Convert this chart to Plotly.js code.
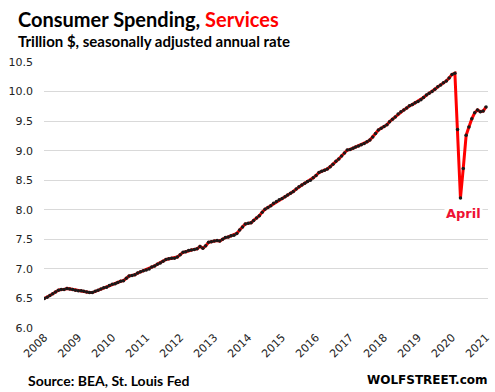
<!DOCTYPE html>
<html>
<head>
<meta charset="utf-8">
<script src="https://cdn.plot.ly/plotly-3.0.1.min.js"></script>
<style>html,body{margin:0;padding:0;background:#fff;}#chart{width:495px;height:392px;}</style>
</head>
<body>
<div id="chart"></div>
<script>
// Monthly, Jan 2008 .. Jan 2021 (trillion $, SAAR)
const startYear = 2008;
const values = [
  // 2008
  6.50, 6.52, 6.55, 6.58, 6.61, 6.64, 6.65, 6.65, 6.67, 6.66, 6.65, 6.64,
  // 2009
  6.63, 6.63, 6.62, 6.61, 6.60, 6.60, 6.62, 6.64, 6.66, 6.68, 6.69, 6.72,
  // 2010
  6.74, 6.75, 6.77, 6.79, 6.80, 6.84, 6.88, 6.89, 6.90, 6.93, 6.95, 6.97,
  // 2011
  6.98, 7.00, 7.03, 7.05, 7.08, 7.10, 7.13, 7.16, 7.17, 7.18, 7.18, 7.20,
  // 2012
  7.24, 7.28, 7.29, 7.31, 7.32, 7.33, 7.34, 7.38, 7.35, 7.39, 7.45, 7.46,
  // 2013
  7.47, 7.48, 7.47, 7.50, 7.53, 7.54, 7.56, 7.57, 7.60, 7.66, 7.71, 7.76,
  // 2014
  7.77, 7.78, 7.82, 7.86, 7.90, 7.96, 8.01, 8.04, 8.07, 8.11, 8.14, 8.17,
  // 2015
  8.19, 8.22, 8.25, 8.28, 8.31, 8.35, 8.39, 8.42, 8.45, 8.48, 8.50, 8.54,
  // 2016
  8.58, 8.63, 8.65, 8.67, 8.69, 8.73, 8.77, 8.82, 8.86, 8.91, 8.96, 9.01,
  // 2017
  9.02, 9.04, 9.06, 9.08, 9.10, 9.12, 9.15, 9.18, 9.23, 9.29, 9.35, 9.38,
  // 2018
  9.41, 9.44, 9.49, 9.53, 9.57, 9.62, 9.66, 9.69, 9.72, 9.76, 9.78, 9.81,
  // 2019
  9.83, 9.86, 9.90, 9.94, 9.97, 10.00, 10.04, 10.08, 10.11, 10.15, 10.18, 10.23,
  // 2020
  10.29, 10.31, 9.36, 8.20, 8.70, 9.26, 9.40, 9.54, 9.64, 9.69, 9.66, 9.67,
  // 2021
  9.74
];
const yTicks = [6.0, 6.5, 7.0, 7.5, 8.0, 8.5, 9.0, 9.5, 10.0, 10.5];
const yTickLabels = ["6.0","6.5","7.0","7.5","8.0","8.5","9.0","9.5","10.0","10.5"];
const xTickYears = ["2008","2009","2010","2011","2012","2013","2014","2015","2016","2017","2018","2019","2020","2021"];
const noteLabel = "April";
const noteDate = "2020-04-01";

const dates = values.map((v, i) => {
  const y = startYear + Math.floor(i / 12);
  const m = (i % 12) + 1;
  return y + "-" + String(m).padStart(2, "0") + "-01";
});
const noteValue = values[dates.indexOf(noteDate)];

const trace = {
  x: dates, y: values, type: "scatter", mode: "lines+markers",
  line: {color: "#ff0000", width: 3},
  marker: {color: "#1a1a1a", size: 3.5},
  hoverinfo: "skip"
};

// plot area: x 44..488, y 62..328
const L = 44, R = 7, T = 62, B = 64, W = 495, H = 392;
const pw = W - L - R, ph = H - T - B;
const px = v => (v - L) / pw;
const py = v => (H - B - v) / ph;

const layout = {
  width: W, height: H,
  margin: {l: L, r: R, t: T, b: B, pad: 0},
  paper_bgcolor: "#fff", plot_bgcolor: "#fff",
  showlegend: false,
  font: {family: "DejaVu Sans, Verdana, sans-serif", color: "#222", size: 11},
  xaxis: {
    type: "date",
    range: ["2007-12-29", "2021-01-22"],
    tickvals: xTickYears.map(y => y + "-01-01"),
    ticktext: xTickYears,
    tickangle: -45,
    showgrid: false, zeroline: false, showline: false,
    ticks: "", tickfont: {size: 11, color: "#222"}
  },
  yaxis: {
    range: [6.0, 10.5],
    tickvals: yTicks, ticktext: yTickLabels,
    showgrid: true, gridcolor: "#d9d9d9", gridwidth: 1,
    zeroline: false, showline: false, ticks: "",
    ticklabelstandoff: 10,
    tickfont: {size: 11, color: "#222"}
  },
  annotations: [
    {xref: "paper", yref: "paper", x: px(16), y: py(19), xanchor: "left", yanchor: "middle",
     showarrow: false, text: "<b>Consumer Spending, <span style='color:#ff0000'>Services</span></b>",
     font: {family: "Lato, Open Sans, sans-serif", size: 20, color: "#000"}},
    {xref: "paper", yref: "paper", x: px(16), y: py(41), xanchor: "left", yanchor: "middle",
     showarrow: false, text: "<b>Trillion $, seasonally adjusted annual rate</b>",
     font: {family: "Lato, Open Sans, sans-serif", size: 15, color: "#000"}},
    {xref: "paper", yref: "paper", x: px(26), y: py(380), xanchor: "left", yanchor: "middle",
     showarrow: false, text: "<b>Source: BEA, St. Louis Fed</b>",
     font: {family: "Lato, Open Sans, sans-serif", size: 14, color: "#000"}},
    {xref: "paper", yref: "paper", x: px(490), y: py(380), xanchor: "right", yanchor: "middle",
     showarrow: false, text: "<b>WOLFSTREET.com</b>",
     font: {family: "DejaVu Sans, Verdana, sans-serif", size: 12, color: "#000"}},
    {xref: "x", yref: "y", x: noteDate, y: noteValue, xanchor: "center", yanchor: "top",
     yshift: -6, xshift: 3, showarrow: false, text: "<b>" + noteLabel + "</b>", bgcolor: "#fff",
     font: {family: "DejaVu Sans, Verdana, sans-serif", size: 13, color: "#ee1133"}}
  ]
};

Plotly.newPlot("chart", [trace], layout, {displayModeBar: false, staticPlot: true});
</script>
</body>
</html>
